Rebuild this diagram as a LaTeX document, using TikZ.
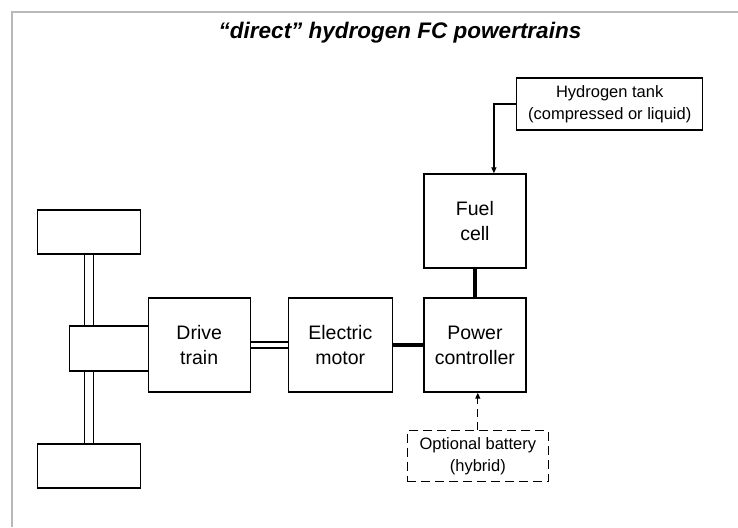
\documentclass[tikz,border=0pt]{standalone}
\usepackage{fontspec}
\setmainfont{Liberation Sans}
\usetikzlibrary{arrows.meta}
\tikzset{
	unit/.style = {draw, line width = 1.4pt, inner sep = 0pt, align = center,
		minimum width = 102pt, minimum height = 94pt,
		font = \fontsize{19.5}{25}\selectfont},
	note/.style = {draw, line width = 1.3pt, inner sep = 0pt, align = center,
		font = \fontsize{16.5}{22}\selectfont},
	wheel/.style = {draw, line width = 1.4pt, minimum width = 103pt, minimum height = 44pt},
	shaft/.style = {line width = 1.2pt},
	link/.style = {line width = 3.5pt},
	feed/.style = {line width = 1.3pt, -{Triangle[length = 6pt, width = 5pt]}}
}
\begin{document}
\begin{tikzpicture} [x = 1pt, y = -1pt]
	\useasboundingbox (0,0) rectangle (738,527);
	\draw [gray!55, line width = 1.5pt] (12,527) -- (12,12) -- (738,12);
	\node (title) at (400,33) {\fontsize{22.5}{26}\selectfont\bfseries\itshape “direct” hydrogen FC powertrains};

	% wheels and axle
	\node [wheel] (wheelT) at (89,232) {};
	\node [wheel] (wheelB) at (89,466) {};
	\node [draw, line width = 1.4pt, minimum width = 79pt, minimum height = 45pt] (diff) at (108.8,348.3) {};

	% powertrain blocks
	\node [unit] (drive) at (199.2,345) {Drive\\train};
	\node [unit, minimum width = 104pt] (motor) at (340.3,345) {Electric\\motor};
	\node [unit] (power) at (474.9,345) {Power\\controller};
	\node [unit] (fuel) at (474.9,221) {Fuel\\cell};
	\node [note, minimum width = 186pt, minimum height = 52pt] (tank) at (609.7,104) {Hydrogen tank\\(compressed or liquid)};
	\node [note, dash pattern = on 9pt off 5pt, minimum width = 141pt, minimum height = 51pt] (batt) at (477.8,456.2) {Optional battery\\(hybrid)};

	% connections
	\foreach \s in {-4.5,4.5} {
		\draw [shaft] ([xshift = \s pt]wheelT.south) -- ([xshift = \s pt]wheelT.south |- diff.north);
		\draw [shaft] ([xshift = \s pt]wheelB.north) -- ([xshift = \s pt]wheelB.north |- diff.south);
	}
	\foreach \s in {-3,3}
		\draw [shaft] ([yshift = \s pt]drive.east) -- ([yshift = \s pt]motor.west);
	\draw [link] (motor.east) -- (power.west);
	\draw [link] (fuel.south) -- (power.north);
	\draw [feed] (tank.west) -| ([xshift = 19pt]fuel.north);
	\draw [feed, dash pattern = on 8pt off 5pt] (batt.north) -- (batt.north |- power.south);
\end{tikzpicture}
\end{document}
